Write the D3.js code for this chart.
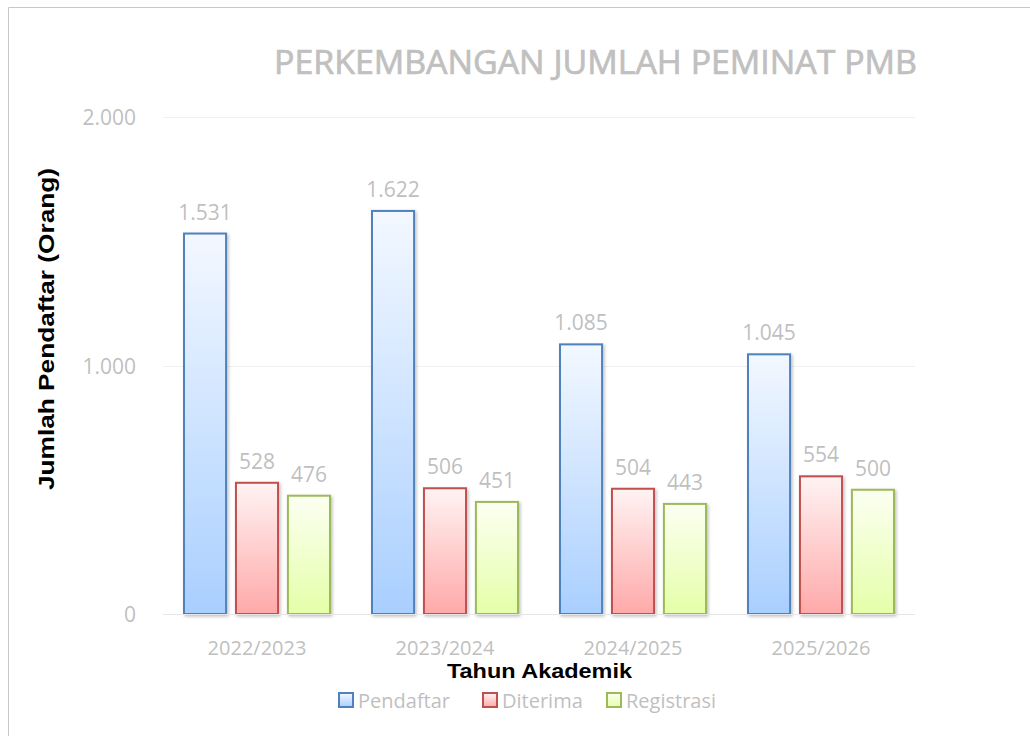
<!DOCTYPE html>
<html>
<head>
<meta charset="utf-8">
<script src="https://cdn.jsdelivr.net/npm/d3@7"></script>
<style>
  body { margin: 0; background: #fff; }
  svg { display: block; }
</style>
</head>
<body>
<div id="chart"></div>
<script>
const years = ['2022/2023', '2023/2024', '2024/2025', '2025/2026'];
const seriesNames = ['Pendaftar', 'Diterima', 'Registrasi'];
const pendaftar = [1531, 1622, 1085, 1045];
const diterima = [528, 506, 504, 554];
const registrasi = [476, 451, 443, 500];
const yTicks = [0, 1000, 2000];

const seriesValues = [pendaftar, diterima, registrasi];
const strokes = ['#4f81bd', '#c0504d', '#9bbb59'];
const gradTop = ['#f3f8ff', '#fff3f3', '#fcfff2'];
const gradBottom = ['#a9cfff', '#ffa9a9', '#e4ffa8'];

const W = 1030, H = 736;
const plot = { left: 163, right: 915, top: 117, bottom: 614 };
const labelFont = 'Open Sans, sans-serif';
const boldFont = 'Liberation Sans, Arial, sans-serif';

const svg = d3.select('#chart').append('svg')
  .attr('width', W).attr('height', H);

// gradients
const defs = svg.append('defs');
seriesNames.forEach((s, i) => {
  const g = defs.append('linearGradient')
    .attr('id', 'grad' + i)
    .attr('x1', 0).attr('y1', 0).attr('x2', 0).attr('y2', 1);
  g.append('stop').attr('offset', '0%').attr('stop-color', gradTop[i]);
  g.append('stop').attr('offset', '100%').attr('stop-color', gradBottom[i]);
});
const shadow = defs.append('filter').attr('id', 'shadow')
  .attr('x', '-20%').attr('y', '-20%').attr('width', '150%').attr('height', '150%');
shadow.append('feDropShadow')
  .attr('dx', 1.5).attr('dy', 1.5).attr('stdDeviation', 1.5)
  .attr('flood-color', '#000').attr('flood-opacity', 0.25);

// outer frame (top and left edges)
svg.append('path')
  .attr('d', `M8.5,${H} V7.5 H${W}`)
  .attr('fill', 'none').attr('stroke', '#c8c8c8').attr('stroke-width', 1);

// scales
const x = d3.scaleBand().domain(years).range([plot.left, plot.right]);
const y = d3.scaleLinear().domain([0, 2000]).range([plot.bottom, plot.top]);
const inner = d3.scaleBand().domain(seriesNames)
  .range([21, x.bandwidth() - 21]).paddingInner(0.19);

const fmt = v => d3.format(',')(v).replace(/,/g, '.');

// gridlines
svg.append('g').selectAll('line').data(yTicks.slice(1)).join('line')
  .attr('x1', plot.left).attr('x2', plot.right)
  .attr('y1', d => Math.round(y(d)) + 0.5).attr('y2', d => Math.round(y(d)) + 0.5)
  .attr('stroke', '#f0f0f0').attr('stroke-width', 1);

// y tick labels
svg.append('g').selectAll('text').data(yTicks).join('text')
  .attr('x', 136).attr('y', d => y(d) + 8)
  .attr('text-anchor', 'end')
  .attr('font-family', labelFont).attr('font-size', 21)
  .attr('fill', '#bfbfbf')
  .text(fmt);

// bars
const groups = svg.append('g').selectAll('g').data(years).join('g')
  .attr('transform', d => `translate(${x(d)},0)`);

groups.each(function (yr, yi) {
  const g = d3.select(this);
  seriesNames.forEach((s, si) => {
    const v = seriesValues[si][yi];
    g.append('rect')
      .attr('x', inner(s)).attr('y', y(v))
      .attr('width', inner.bandwidth()).attr('height', y(0) - y(v))
      .attr('fill', `url(#grad${si})`)
      .attr('stroke', strokes[si]).attr('stroke-width', 2)
      .attr('filter', 'url(#shadow)');
    g.append('text')
      .attr('x', inner(s) + inner.bandwidth() / 2)
      .attr('y', y(v) - 14)
      .attr('text-anchor', 'middle')
      .attr('font-family', labelFont).attr('font-size', 21)
      .attr('fill', '#bfbfbf')
      .text(fmt(v));
  });
});

// baseline
svg.append('line')
  .attr('x1', plot.left).attr('x2', plot.right)
  .attr('y1', plot.bottom + 0.5).attr('y2', plot.bottom + 0.5)
  .attr('stroke', '#e6e6e6').attr('stroke-width', 1);

// x tick labels
svg.append('g').selectAll('text').data(years).join('text')
  .attr('x', d => x(d) + x.bandwidth() / 2).attr('y', 655)
  .attr('text-anchor', 'middle')
  .attr('font-family', labelFont).attr('font-size', 20)
  .attr('fill', '#bfbfbf')
  .text(d => d);

// title (thin stroke to get a medium weight)
svg.append('text')
  .attr('x', 274).attr('y', 74)
  .attr('textLength', 643).attr('lengthAdjust', 'spacingAndGlyphs')
  .attr('font-family', labelFont).attr('font-size', 32)
  .attr('fill', '#c0c0c0')
  .attr('stroke', '#c0c0c0').attr('stroke-width', 0.7)
  .text('PERKEMBANGAN JUMLAH PEMINAT PMB');

// axis titles
svg.append('text')
  .attr('transform', 'translate(54,490) rotate(-90)')
  .attr('textLength', 322).attr('lengthAdjust', 'spacingAndGlyphs')
  .attr('font-family', boldFont)
  .attr('font-size', 22).attr('font-weight', 'bold')
  .attr('fill', '#000')
  .text('Jumlah Pendaftar (Orang)');

svg.append('text')
  .attr('x', 447).attr('y', 678)
  .attr('textLength', 185).attr('lengthAdjust', 'spacingAndGlyphs')
  .attr('font-family', boldFont)
  .attr('font-size', 21).attr('font-weight', 'bold')
  .attr('fill', '#000')
  .text('Tahun Akademik');

// legend
const legendX = [339, 483, 607];
const legend = svg.append('g').selectAll('g').data(seriesNames).join('g')
  .attr('transform', (d, i) => `translate(${legendX[i]},693)`);
legend.append('rect')
  .attr('width', 14).attr('height', 14)
  .attr('fill', (d, i) => `url(#grad${i})`)
  .attr('stroke', (d, i) => strokes[i]).attr('stroke-width', 2);
legend.append('text')
  .attr('x', 19).attr('y', 15)
  .attr('font-family', labelFont).attr('font-size', 20)
  .attr('fill', '#bfbfbf')
  .text(d => d);
</script>
</body>
</html>
